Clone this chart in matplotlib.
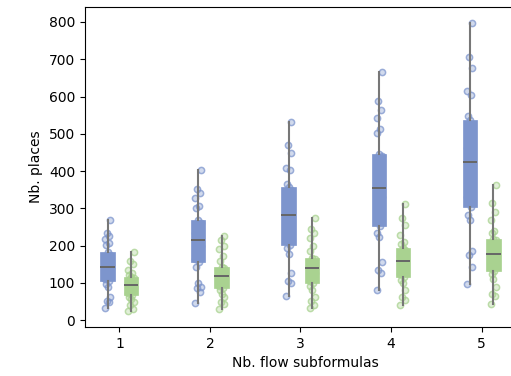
import matplotlib
matplotlib.use("Agg")
import matplotlib.pyplot as plt
from matplotlib.colors import to_rgba

# --- data ---
subformulas = [1, 2, 3, 4, 5]

places_a = [
    [32, 48, 53, 62, 88, 98, 104, 110, 118, 125, 132, 138, 142, 148, 155, 162, 170, 176, 182,
     203, 206, 219, 227, 235, 270],
    [47, 75, 86, 88, 99, 142, 155, 165, 178, 190, 200, 208, 214, 222, 235, 245, 255, 262, 270,
     302, 307, 329, 342, 353, 404],
    [64, 99, 104, 126, 179, 195, 203, 215, 230, 248, 262, 275, 283, 295, 310, 325, 340, 350, 358,
     366, 404, 409, 449, 470, 532],
    [80, 126, 136, 155, 222, 235, 254, 270, 290, 310, 330, 345, 356, 370, 390, 410, 425, 440, 447,
     503, 513, 543, 564, 588, 666],
    [96, 144, 174, 187, 270, 283, 305, 330, 360, 380, 400, 415, 425, 440, 463, 480, 500, 520, 537,
     548, 604, 615, 676, 706, 797],
]
places_b = [
    [24, 30, 42, 50, 58, 63, 67, 72, 78, 82, 87, 90, 94, 98, 102, 106, 110, 113, 115,
     122, 128, 135, 150, 160, 182],
    [30, 45, 50, 62, 70, 80, 86, 92, 100, 106, 110, 114, 118, 122, 126, 130, 135, 139, 142,
     160, 172, 192, 200, 215, 225],
    [33, 42, 52, 62, 80, 92, 99, 106, 115, 122, 128, 134, 139, 144, 150, 155, 160, 163, 166,
     185, 200, 220, 235, 245, 273],
    [40, 55, 62, 80, 100, 108, 115, 125, 135, 142, 150, 156, 160, 166, 172, 178, 184, 189, 193,
     205, 210, 230, 255, 275, 313],
    [45, 65, 70, 90, 110, 125, 131, 140, 150, 160, 168, 174, 179, 185, 192, 200, 207, 214, 219,
     235, 240, 270, 290, 315, 363],
]

blue = "#7d95cd"
green = "#a9d290"
jit = [-0.03, 0.02, -0.01, 0.03, 0.0, -0.02, 0.01]

fig = plt.figure(figsize=(5.11, 3.76), dpi=100)
ax = fig.add_axes([85 / 511, 49 / 376, 440 / 511, 320 / 376])

for vals, off, col in [(places_a, -0.13, blue), (places_b, 0.13, green)]:
    pos = [x + off for x in subformulas]
    for p, v in zip(pos, vals):
        xs = [p + jit[i % len(jit)] for i in range(len(v))]
        ax.scatter(xs, v, s=20, color=to_rgba(col, 0.35), edgecolors=to_rgba(col, 0.75),
                   linewidths=1.1, zorder=1)
    ax.boxplot(vals, positions=pos, widths=0.16, whis=(0, 100), showcaps=False,
               showfliers=False, patch_artist=True, manage_ticks=False,
               boxprops=dict(facecolor=col, edgecolor=col, linewidth=0.5),
               medianprops=dict(color="#666666", linewidth=1.4),
               whiskerprops=dict(color="#777777", linewidth=1.5),
               zorder=2)

# xlim chosen so the right spine falls just outside the figure, as in the reference
ax.set_xlim(0.62, 5.48)
ax.set_ylim(-18, 840)
ax.set_xticks(subformulas)
ax.set_yticks(range(0, 801, 100))
ax.set_xlabel("Nb. flow subformulas")
ax.set_ylabel("Nb. places")

fig.savefig("out.png", dpi=100)
